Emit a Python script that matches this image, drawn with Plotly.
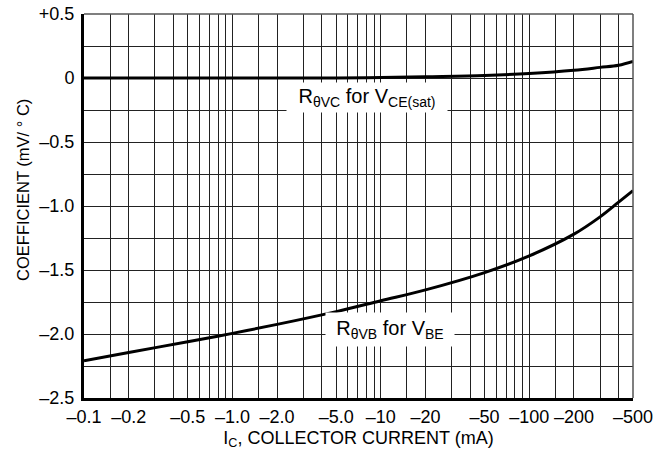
import plotly.graph_objects as go

# Data (magnitude of collector current, mA)
ic_vc = [0.1, 1, 5, 10, 20, 50, 100, 200, 300, 400, 500]
coef_vc = [0.0, 0.0, 0.0, 0.003, 0.01, 0.02, 0.035, 0.06, 0.083, 0.10, 0.13]

ic_vb = [0.1, 0.2, 0.5, 1, 2, 5, 10, 20, 50, 100, 200, 300, 400, 500]
coef_vb = [-2.21, -2.145, -2.06, -1.995, -1.925, -1.825, -1.74, -1.655, -1.52, -1.39, -1.22, -1.085, -0.97, -0.88]

x_tickvals = [0.1, 0.2, 0.5, 1, 2, 5, 10, 20, 50, 100, 200, 500]
x_ticktext = ["–0.1", "–0.2", "–0.5", "–1.0", "–2.0", "–5.0",
              "–10", "–20", "–50", "–100", "–200", "–500"]
x_minor = [0.15, 0.3, 0.4, 0.6, 0.7, 0.8, 0.9,
           1.5, 3, 4, 6, 7, 8, 9,
           15, 30, 40, 60, 70, 80, 90,
           150, 300, 400]

y_tickvals = [0.5, 0, -0.5, -1.0, -1.5, -2.0, -2.5]
y_ticktext = ["+0.5", "0", "–0.5", "–1.0", "–1.5", "–2.0", "–2.5"]
y_minor = [0.25, -0.25, -0.75, -1.25, -1.75, -2.25]

FONT = "Liberation Sans, Arial, sans-serif"
GRID = "#222"

fig = go.Figure()
fig.add_trace(go.Scatter(x=ic_vc, y=coef_vc, mode="lines",
                         line=dict(color="black", width=3, shape="spline"), showlegend=False))
fig.add_trace(go.Scatter(x=ic_vb, y=coef_vb, mode="lines",
                         line=dict(color="black", width=3, shape="spline"), showlegend=False))

fig.update_layout(
    width=659, height=459,
    margin=dict(l=84, r=26, t=14, b=61),
    paper_bgcolor="white", plot_bgcolor="white",
    font=dict(family=FONT, size=18, color="black"),
    xaxis=dict(type="log", range=[-1, 2.69897], automargin=False,
               tickvals=x_tickvals, ticktext=x_ticktext, ticks="",
               ticklabeloverflow="allow",
               showgrid=True, gridcolor=GRID, gridwidth=1,
               minor=dict(tickvals=x_minor, showgrid=True, gridcolor=GRID, gridwidth=1, ticks=""),
               showline=True, linecolor="black", linewidth=3,
               zeroline=False, tickangle=0,
               title=dict(text="I<sub>C</sub>, COLLECTOR CURRENT (mA)", standoff=6,
                          font=dict(size=18))),
    yaxis=dict(range=[-2.5, 0.5], tickvals=y_tickvals, ticktext=y_ticktext, ticks="",
               automargin=False, ticklabelstandoff=3, ticklabeloverflow="allow",
               showgrid=True, gridcolor=GRID, gridwidth=1,
               minor=dict(tickvals=y_minor, showgrid=True, gridcolor=GRID, gridwidth=1, ticks=""),
               showline=True, linecolor="black", linewidth=3,
               zeroline=False),
    annotations=[
        dict(xref="paper", yref="paper", x=-0.111, y=0.542, showarrow=False,
             xanchor="center", yanchor="middle",
             text="COEFFICIENT (mV/ ° C)", textangle=-90, font=dict(size=16.5)),
        dict(xref="paper", yref="paper", x=0.515, y=0.782, showarrow=False,
             xanchor="center", yanchor="middle", borderpad=0,
             text="R<sub>θVC</sub> for V<sub>CE(sat)</sub>", bgcolor="white",
             width=160, height=29, font=dict(size=20)),
        dict(xref="paper", yref="paper", x=0.557, y=0.178, showarrow=False,
             xanchor="center", yanchor="middle", borderpad=0,
             text="R<sub>θVB</sub> for V<sub>BE</sub>", bgcolor="white",
             width=128, height=33, font=dict(size=20)),
    ],
    shapes=[
        dict(type="line", xref="paper", yref="paper", x0=0, x1=1, y0=1, y1=1,
             line=dict(color="#555", width=1.5)),
        dict(type="line", xref="paper", yref="paper", x0=1, x1=1, y0=0, y1=1,
             line=dict(color="#555", width=1.5)),
    ],
)

fig.write_html("out.html", config={"displayModeBar": False},
               post_script="document.body.style.margin='0';")
